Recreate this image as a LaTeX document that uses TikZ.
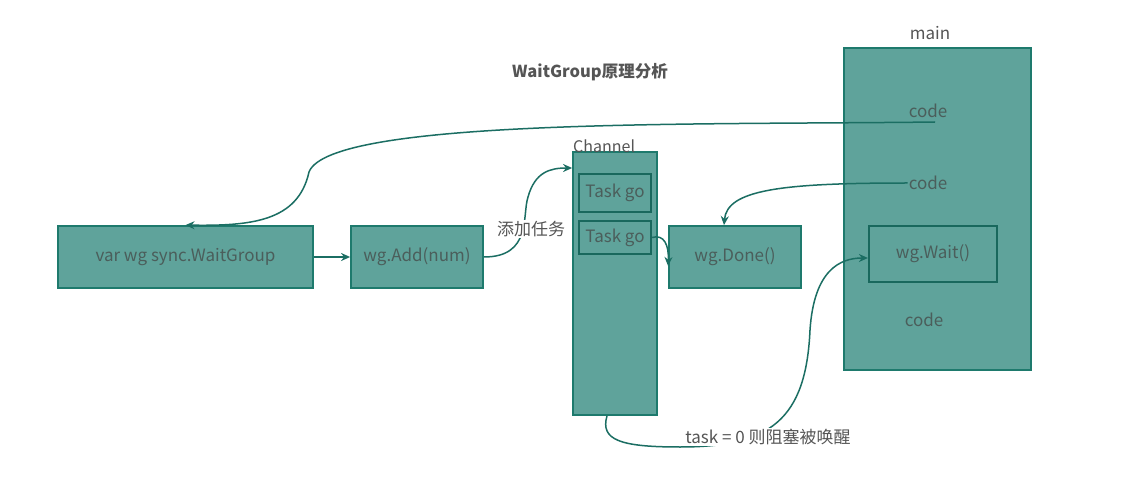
\documentclass[tikz,border=0pt]{standalone}
\usepackage{fontspec}
\setmainfont{Noto Sans CJK SC}
\usetikzlibrary{arrows.meta}
\definecolor{boxfill}{HTML}{5FA39B}
\definecolor{boxline}{HTML}{1E7A6D}
\definecolor{boxtext}{HTML}{4B5E5B}
\definecolor{conn}{HTML}{1B6E63}
\definecolor{lbl}{HTML}{555555}
\begin{document}
\begin{tikzpicture}[x=1pt,y=-1pt,
  box/.style={draw=boxline,fill=boxfill,line width=1.8pt,text=boxtext,font=\fontsize{17}{20}\selectfont,inner sep=0pt},
  inbox/.style={draw=boxline!85!black,fill=boxfill,line width=2.2pt,text=boxtext,font=\fontsize{17}{20}\selectfont,inner sep=0pt},
  plain/.style={text=boxtext,font=\fontsize{17}{20}\selectfont,inner sep=1pt},
  lab/.style={text=lbl,font=\fontsize{17}{20}\selectfont,inner sep=1pt},
  conn/.style={draw=conn,line width=1.5pt,-{Stealth[length=9pt,width=8pt]}}]
\useasboundingbox[fill=white] (0,0) rectangle (1137,478);

\node[lab,font=\bfseries\fontsize{16.5}{19}\selectfont] (title) at (590,72) {WaitGroup原理分析};

\node[box,minimum width=255,minimum height=62] (var) at (185.5,257) {var wg sync.WaitGroup};
\node[box,minimum width=132,minimum height=62] (add) at (417,257) {wg.Add(num)};
\node[box,minimum width=84,minimum height=263] (chan) at (615,283.5) {};
\node[lab,anchor=south west,font=\fontsize{16}{19}\selectfont] (chanlab) at (572,154) {Channel};
\node[inbox,minimum width=72,minimum height=38] (task1) at (615,193) {Task go};
\node[inbox,minimum width=72,minimum height=33] (task2) at (615,237.5) {Task go};
\node[box,minimum width=132,minimum height=62] (done) at (735,257) {wg.Done()};
\node[box,minimum width=187,minimum height=322] (main) at (937.5,209) {};
\node[lab] (mainlab) at (930,33) {main};
\node[plain] (code1) at (928,111) {code};
\node[plain] (code2) at (928,183) {code};
\node[inbox,minimum width=128,minimum height=56] (wait) at (933,254) {wg.Wait()};
\node[plain] (code3) at (924,320) {code};

\coordinate (c1s) at (935,122);
\draw[conn] (c1s) .. controls (700,125) and (330,118) .. (309,172)
  .. controls (298,222) and (250,226) .. (var.north);
\draw[conn] (var.east) -- (add.west);
\draw[conn] (add.east) .. controls (532,257) and (522,215) .. (528,197)
  .. controls (535,172) and (550,168) .. (chan.west |- 0,168);
\draw[conn] (task2.east) .. controls (664,234) and (669,245) .. (done.west |- 0,266);
\draw[conn] (code2.west) .. controls (780,183) and (727,190) .. (done.north -| 724,0);
\draw[conn] (chan.south -| 607,0) .. controls (600,440) and (620,447) .. (680,447)
  .. controls (770,447) and (806,420) .. (810,330)
  .. controls (814,270) and (840,258) .. (wait.west |- 0,258);

\node[lab,fill=white] (addlab) at (531,229) {添加任务};
\node[lab,fill=white] (tasklab) at (768,437) {task = 0 则阻塞被唤醒};
\end{tikzpicture}
\end{document}
